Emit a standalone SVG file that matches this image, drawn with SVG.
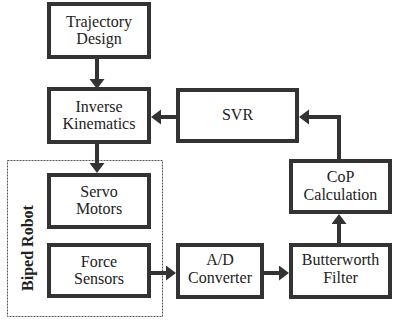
<svg xmlns="http://www.w3.org/2000/svg" width="393" height="323" viewBox="0 0 393 323">
<style>
.box{fill:#fff;stroke:#333;stroke-width:4}
.t{font-family:'Liberation Serif',serif;font-size:16px;fill:#222;text-anchor:middle}
.c{fill:none;stroke:#333;stroke-width:4}
</style>
<defs>
<marker id="ah" markerUnits="userSpaceOnUse" markerWidth="12" markerHeight="16" refX="4" refY="7.5" orient="auto">
<path d="M0,0 L10,7.5 L0,15 z" fill="#333"/>
</marker>
</defs>
<rect id="biped-robot" x="7.5" y="160.5" width="155" height="156" fill="none" stroke="#555" stroke-width="1" stroke-dasharray="2 1"/>
<text transform="translate(33,248) rotate(-90)" class="t" font-weight="bold">Biped Robot</text>
<g id="connectors">
<line class="c" x1="97" y1="59" x2="97" y2="83" marker-end="url(#ah)"/>
<line class="c" x1="176" y1="117" x2="157" y2="117" marker-end="url(#ah)"/>
<line class="c" x1="97" y1="144" x2="97" y2="167" marker-end="url(#ah)"/>
<line class="c" x1="151" y1="273" x2="170" y2="273" marker-end="url(#ah)"/>
<line class="c" x1="264" y1="273" x2="283" y2="273" marker-end="url(#ah)"/>
<line class="c" x1="339" y1="243" x2="339" y2="220" marker-end="url(#ah)"/>
<polyline class="c" points="339,159 339,117 305,117" marker-end="url(#ah)"/>
</g>
<g id="trajectory"><rect class="box" x="49" y="4" width="100" height="53"/><text class="t" x="99" y="27">Trajectory</text><text class="t" x="99" y="44">Design</text></g>
<g id="inverse"><rect class="box" x="49" y="89" width="100" height="53"/><text class="t" x="99" y="112">Inverse</text><text class="t" x="99" y="129">Kinematics</text></g>
<g id="servo"><rect class="box" x="49" y="175" width="100" height="52"/><text class="t" x="99" y="197">Servo</text><text class="t" x="99" y="214">Motors</text></g>
<g id="force"><rect class="box" x="49" y="245" width="100" height="51"/><text class="t" x="99" y="267">Force</text><text class="t" x="99" y="284">Sensors</text></g>
<g id="ad"><rect class="box" x="178" y="245" width="84" height="52"/><text class="t" x="220" y="265">A/D</text><text class="t" x="220" y="283">Converter</text></g>
<g id="butterworth"><rect class="box" x="291" y="245" width="99" height="52"/><text class="t" x="340.5" y="265">Butterworth</text><text class="t" x="340.5" y="283">Filter</text></g>
<g id="cop"><rect class="box" x="291" y="161" width="99" height="51"/><text class="t" x="340.5" y="182">CoP</text><text class="t" x="340.5" y="200">Calculation</text></g>
<g id="svr"><rect class="box" x="178" y="90" width="119" height="51"/><text class="t" x="237.5" y="120">SVR</text></g>
</svg>
